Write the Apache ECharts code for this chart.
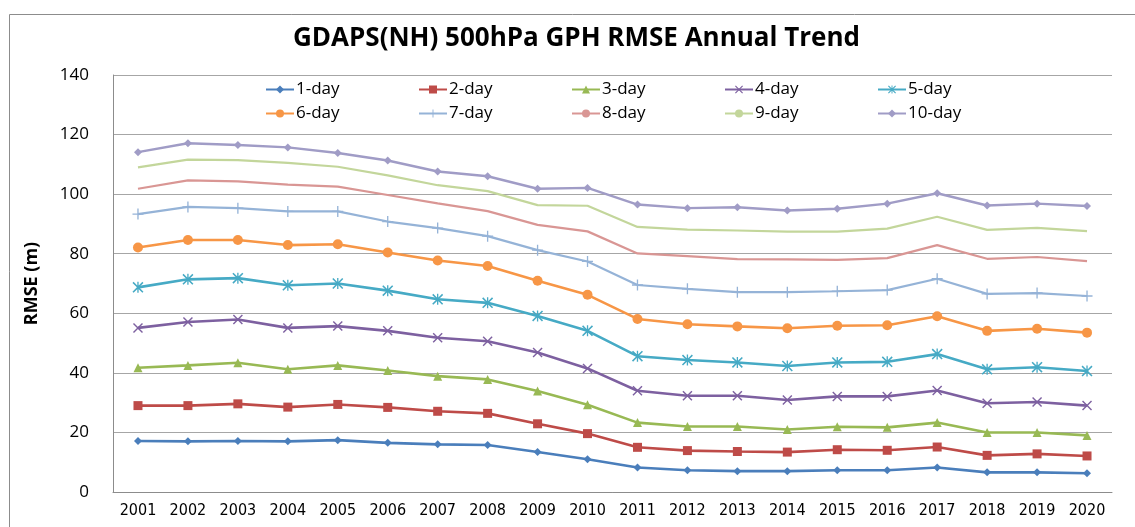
<!DOCTYPE html>
<html><head><meta charset="utf-8">
<script src="https://cdn.jsdelivr.net/npm/echarts@6/dist/echarts.min.js"></script>
<style>html,body{margin:0;padding:0;background:#fff}#c{width:1135px;height:527px}</style>
</head><body><div id="c"></div>
<script>
const years = ['2001','2002','2003','2004','2005','2006','2007','2008','2009','2010','2011','2012','2013','2014','2015','2016','2017','2018','2019','2020'];
const seriesNames = ['1-day','2-day','3-day','4-day','5-day','6-day','7-day','8-day','9-day','10-day'];
const day1  = [17.1,17.0,17.1,17.0,17.4,16.5,16.0,15.8,13.4,11.0,8.2,7.3,7.0,7.0,7.3,7.3,8.2,6.6,6.6,6.3];
const day2  = [29.0,29.0,29.6,28.5,29.4,28.4,27.1,26.4,22.9,19.6,15.0,13.9,13.6,13.4,14.2,14.0,15.1,12.3,12.8,12.1];
const day3  = [41.7,42.5,43.4,41.2,42.5,40.8,38.9,37.8,33.9,29.3,23.3,22.0,22.0,21.0,21.9,21.7,23.3,20.0,20.0,19.0];
const day4  = [55.1,57.1,57.9,55.1,55.7,54.1,51.8,50.6,46.8,41.5,34.0,32.3,32.3,30.9,32.1,32.1,34.1,29.8,30.2,29.0];
const day5  = [68.7,71.4,71.8,69.4,70.0,67.6,64.7,63.5,59.1,54.1,45.6,44.3,43.5,42.3,43.5,43.7,46.3,41.2,41.9,40.6];
const day6  = [82.1,84.6,84.6,82.9,83.2,80.4,77.7,75.9,70.9,66.2,58.1,56.3,55.6,55.0,55.8,56.0,59.0,54.1,54.8,53.5];
const day7  = [93.3,95.7,95.3,94.2,94.2,90.8,88.6,85.9,81.2,77.4,69.5,68.2,67.1,67.1,67.4,67.8,71.6,66.5,66.8,65.8];
const day8  = [101.8,104.6,104.3,103.2,102.5,99.7,96.9,94.3,89.7,87.5,80.1,79.2,78.2,78.1,77.9,78.5,82.9,78.3,78.9,77.5];
const day9  = [109.0,111.6,111.4,110.5,109.2,106.3,103.0,101.0,96.3,96.1,89.0,88.1,87.8,87.4,87.4,88.4,92.4,88.0,88.7,87.6];
const day10 = [114.1,117.1,116.5,115.7,113.8,111.3,107.6,106.0,101.8,102.1,96.5,95.3,95.6,94.5,95.1,96.8,100.3,96.2,96.8,96.0];
const yTicks = [0,20,40,60,80,100,120,140];

const allData = [day1,day2,day3,day4,day5,day6,day7,day8,day9,day10];
const colors = ['#4A7EBB','#BE4B48','#98B954','#7D60A0','#46AAC5','#F79646','#95B3D7','#D99694','#C3D69B','#A09CC6'];
const X = 'path://M1,0L5,4L9,0L10,1L6,5L10,9L9,10L5,6L1,10L0,9L4,5L0,1Z';
const AST = 'path://M1,0L5,4L9,0L10,1L6,5L10,9L9,10L5,6L1,10L0,9L4,5L0,1ZM4.4,0H5.6V10H4.4Z';
const PLUS = 'path://M4.4,0H5.6V4.4H10V5.6H5.6V10H4.4V5.6H0V4.4H4.4Z';
const symbols = ['diamond','rect','triangle',X,AST,'circle',PLUS,'none','none','diamond'];
const sizes = [8,9,9,10,11,10,11,0,0,8];
const widths = [2.6,2.6,2.6,2.6,2.6,2.6,2.2,2.2,2.2,2.4];

const series = allData.map((d,i)=>({
  name: seriesNames[i], type:'line', data:d,
  symbol: symbols[i], symbolSize: sizes[i], showSymbol: symbols[i] !== 'none',
  itemStyle:{color:colors[i]},
  lineStyle:{color:colors[i], width:widths[i]},
  animation:false, z: 10 - i
}));

const legends = seriesNames.map((n,i)=>({
  data:[n], left: 265 + 153*(i%5), top: i<5 ? 81 : 105, padding:0,
  itemWidth: 28, itemHeight: 10, itemGap: 0,
  textStyle:{fontFamily:'Open Sans, sans-serif', fontSize:17, color:'#000', padding:[0,0,0,-3]}
}));

const chart = echarts.init(document.getElementById('c'), null, {renderer:'canvas'});
chart.setOption({
  backgroundColor:'#fff',
  color: colors,
  title:{text:'GDAPS(NH) 500hPa GPH RMSE Annual Trend', left:288, top:21,
    textStyle:{fontFamily:'Open Sans, sans-serif', fontWeight:'bold', fontSize:26, color:'#000'}},
  legend: legends,
  grid:{left:113, right:23, top:75, bottom:35, containLabel:false},
  xAxis:{type:'category', data:years, boundaryGap:true,
    axisLine:{lineStyle:{color:'#8c8c8c', width:1}},
    axisTick:{inside:true, length:6, lineStyle:{color:'#8c8c8c'}},
    axisLabel:{fontFamily:'Liberation Sans Narrow, DejaVu Sans Condensed, Liberation Sans, sans-serif', fontSize:16, color:'#000', margin:11}},
  yAxis:{type:'value', min:yTicks[0], max:yTicks[yTicks.length-1], interval:20,
    name:'RMSE (m)', nameLocation:'middle', nameGap:72, nameRotate:90,
    nameTextStyle:{fontFamily:'Open Sans, sans-serif', fontWeight:'bold', fontSize:18, color:'#000'},
    axisLine:{show:true, lineStyle:{color:'#8c8c8c'}},
    axisTick:{show:false},
    splitLine:{lineStyle:{color:'#a6a6a6', width:1.2}},
    axisLabel:{fontFamily:'Open Sans, sans-serif', fontSize:17, color:'#000', margin:24}},
  graphic:[{type:'rect', left:7, top:12, shape:{width:1140, height:540},
    style:{fill:'none', stroke:'#8c8c8c', lineWidth:1}, silent:true, z:-1}],
  series: series
});
</script></body></html>
